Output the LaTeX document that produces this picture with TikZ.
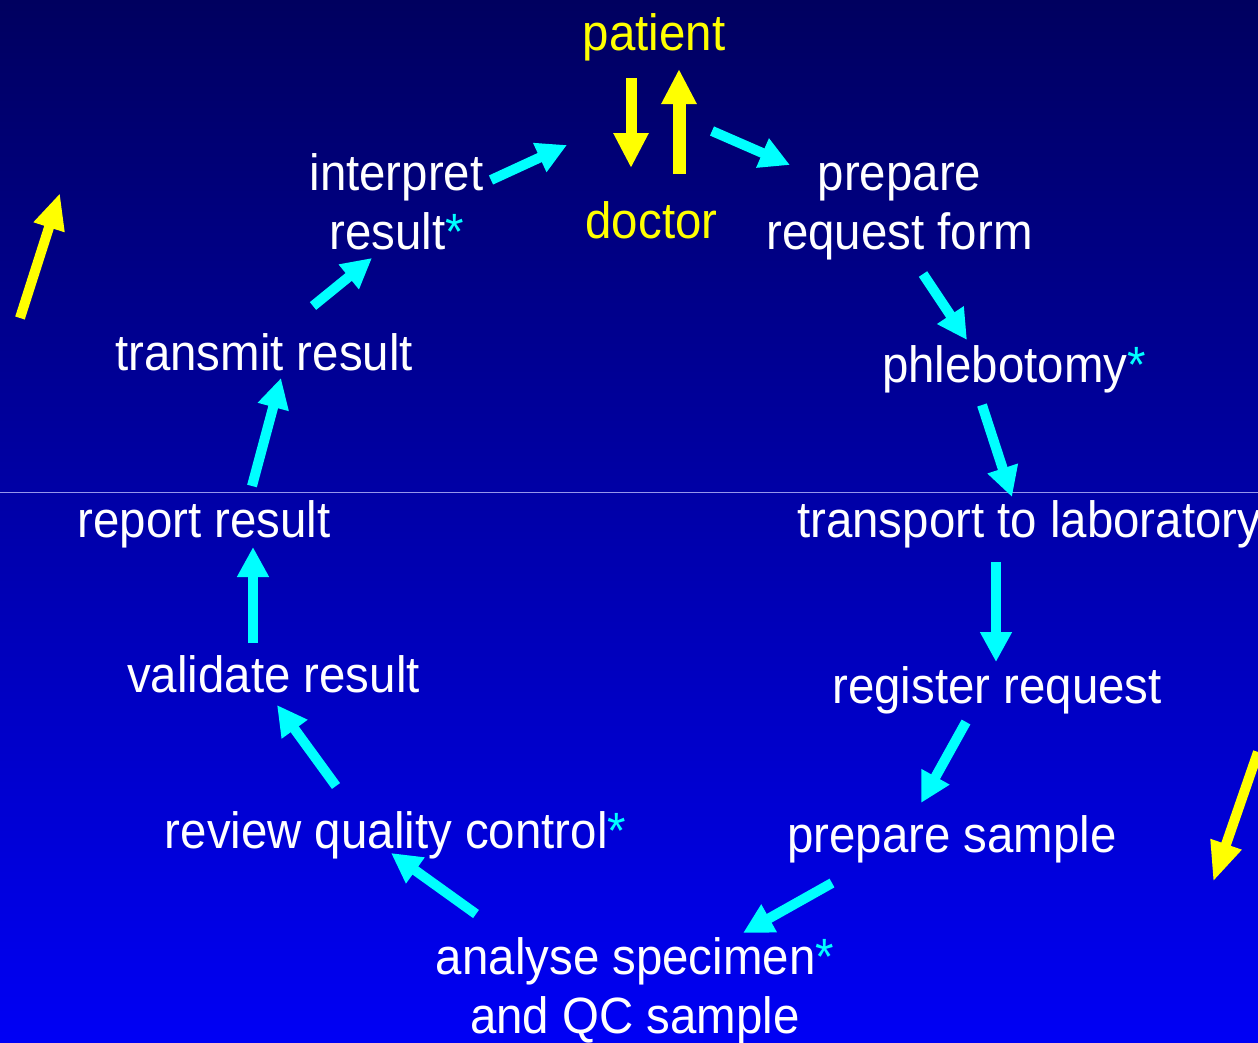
\documentclass[tikz,border=0pt]{standalone}
\usepackage{fontspec}
\setmainfont{Liberation Sans}[FakeStretch=0.93]
\usetikzlibrary{arrows.meta}
\definecolor{bgtop}{RGB}{0,0,95}
\definecolor{bgmid}{RGB}{0,0,188}
\definecolor{bgbot}{RGB}{0,0,245}
\definecolor{sepline}{RGB}{150,150,235}
\definecolor{cy}{RGB}{0,255,255}
\definecolor{ye}{RGB}{255,255,0}
\tikzset{
  lbl/.style={text=white, inner sep=0pt, font=\fontsize{51}{58.5}\selectfont, align=center, anchor=base},
  ylbl/.style={lbl, text=ye},
  cyarrow/.style={draw=cy, line width=10pt, line cap=butt, -{Triangle[length=30pt,width=30pt]}},
  yearrow/.style={draw=ye, line width=11pt, line cap=butt, -{Triangle[length=35pt,width=33pt]}},
}
\newcommand{\cyast}{{\color{cy}*}}
\begin{document}
\begin{tikzpicture}[x=1pt,y=-1pt]
\shade[top color=bgtop, middle color=bgmid, bottom color=bgbot] (0,0) rectangle (1258,1042);
\useasboundingbox (0,0) rectangle (1258,1042);
\coordinate (sepL) at (0,492);
\coordinate (sepR) at (1258,492);
\draw[sepline, line width=1pt] (sepL) -- (sepR);

% labels (for two-line labels the anchor is the last line's baseline)
\node[ylbl] (patient) at (654,50) {patient};
\node[ylbl] (doctor) at (651.5,238) {doctor};
\node[lbl] (interp) at (396.5,249) {interpret\\result\cyast};
\node[lbl] (reqform) at (899.5,249) {prepare\\request form};
\node[lbl] (phleb) at (1014,382) {phlebotomy\cyast};
\node[lbl] (transmit) at (264,370) {transmit result};
\node[lbl] (report) at (204,537) {report result};
\node[lbl, anchor=base west] (transport) at (797,537) {transport to laboratory};
\node[lbl] (validate) at (273.5,692) {validate result};
\node[lbl] (register) at (997,703) {register request};
\node[lbl] (review) at (395.5,848) {review quality control\cyast};
\node[lbl] (prepsample) at (952,852) {prepare sample};
\node[lbl] (analyse) at (635,1033) {analyse specimen\cyast\\and QC sample};

% arrow end points
\coordinate (pd1) at (631,78);   \coordinate (pd2) at (631,168);
\coordinate (dp1) at (679,174);  \coordinate (dp2) at (679,69);
\coordinate (a1s) at (712,131);  \coordinate (a1e) at (790,165);
\coordinate (a2s) at (923,274);  \coordinate (a2e) at (967,340);
\coordinate (a3s) at (982,405);  \coordinate (a3e) at (1012,497);
\coordinate (a4s) at (996,562);  \coordinate (a4e) at (996,662);
\coordinate (a5s) at (966,722);  \coordinate (a5e) at (921,803);
\coordinate (a6s) at (832,883);  \coordinate (a6e) at (743,933);
\coordinate (a7s) at (476,914);  \coordinate (a7e) at (391,853);
\coordinate (a8s) at (336,786);  \coordinate (a8e) at (277,705);
\coordinate (a9s) at (253,643);  \coordinate (a9e) at (253,547);
\coordinate (a10s) at (252,486); \coordinate (a10e) at (281,378);
\coordinate (a11s) at (313,306); \coordinate (a11e) at (372,258);
\coordinate (a12s) at (491,180); \coordinate (a12e) at (567,145);
\coordinate (yl1) at (20,318);   \coordinate (yl2) at (60,193);
\coordinate (yr1) at (1258,752); \coordinate (yr2) at (1213,882);

% yellow arrows
\draw[yearrow] (pd1) -- (pd2);
\draw[yearrow, line width=13pt] (dp1) -- (dp2);
\draw[yearrow, line width=10pt, -{Triangle[length=36pt,width=30pt]}] (yl1) -- (yl2);
\draw[yearrow, line width=10pt, -{Triangle[length=40pt,width=30pt]}] (yr1) -- (yr2);

% cyan arrows
\draw[cyarrow] (a1s) -- (a1e);
\draw[cyarrow] (a2s) -- (a2e);
\draw[cyarrow] (a3s) -- (a3e);
\draw[cyarrow] (a4s) -- (a4e);
\draw[cyarrow] (a5s) -- (a5e);
\draw[cyarrow] (a6s) -- (a6e);
\draw[cyarrow] (a7s) -- (a7e);
\draw[cyarrow] (a8s) -- (a8e);
\draw[cyarrow] (a9s) -- (a9e);
\draw[cyarrow] (a10s) -- (a10e);
\draw[cyarrow] (a11s) -- (a11e);
\draw[cyarrow] (a12s) -- (a12e);
\end{tikzpicture}
\end{document}
